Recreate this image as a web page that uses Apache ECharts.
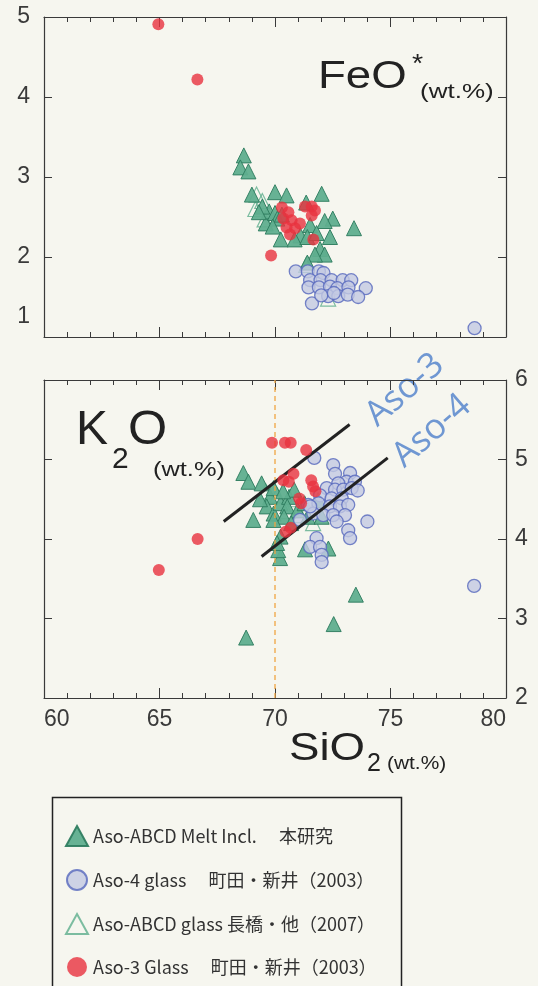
<!DOCTYPE html>
<html>
<head>
<meta charset="utf-8">
<script src="https://cdn.jsdelivr.net/npm/echarts@6.0.0/dist/echarts.min.js"></script>
<style>
html,body{margin:0;padding:0;background:#f6f6ef}
#main{width:538px;height:986px}
</style>
</head>
<body>
<div id="main"></div>
<script>
// series names (legend)
var nameMelt = 'Aso-ABCD Melt Incl.\u3000 本研究'
var nameAso4 = 'Aso-4 glass\u3000 町田・新井（2003）'
var nameAbcdGlass = 'Aso-ABCD glass 長橋・他（2007）'
var nameAso3 = 'Aso-3 Glass\u3000 町田・新井（2003）'

// SiO2 vs FeO* (upper panel)
var meltFeO = [[68.65,3.27],[68.5,3.12],[68.85,3.07],[69.0,2.78],[70.0,2.81],[70.5,2.77],[72.02,2.79],[71.35,2.68],
  [73.42,2.36],[72.5,2.48],[72.15,2.45],[72.38,2.25],[71.95,2.1],[72.15,2.03],[71.73,2.03],[71.4,1.93],[70.25,2.22],
  [69.6,2.42],[69.75,2.57],[70.0,2.55],[69.45,2.63],[69.3,2.56],[71.1,2.27],[71.52,2.4],[70.85,2.22],[71.4,2.25],
  [70.1,2.48],[70.3,2.53],[69.9,2.38],[71.8,2.3]]
var abcdGlassFeO = [[69.2,2.78],[69.45,2.7],[69.15,2.6],[69.55,2.47],[71.35,1.9],[72.3,1.48]]
var aso4FeO = [[70.9,1.82],[71.42,1.82],[71.9,1.82],[72.1,1.8],[71.52,1.71],[71.97,1.71],[72.45,1.71],[72.93,1.71],
  [73.3,1.71],[71.45,1.62],[71.9,1.62],[72.38,1.63],[72.7,1.61],[73.18,1.62],[73.93,1.61],[72.3,1.51],[72.74,1.51],
  [73.15,1.53],[73.6,1.5],[71.6,1.42],[72.0,1.52],[72.55,1.55],[78.64,1.11]]
var aso3FeO = [[64.95,4.91],[66.64,4.22],[69.83,2.02],[70.3,2.62],[70.58,2.56],[70.36,2.48],[70.72,2.46],[70.87,2.36],
  [70.5,2.37],[70.65,2.28],[71.3,2.63],[71.59,2.63],[71.73,2.58],[71.59,2.52],[71.08,2.42],[71.66,2.22]]

// SiO2 vs K2O (lower panel)
var meltK2O = [[68.63,4.83],[68.85,4.72],[69.06,4.24],[68.75,2.76],[72.54,2.93],[73.5,3.3],[70.22,3.76],[70.14,3.86],
  [69.42,4.7],[69.79,4.53],[69.94,4.64],[69.64,4.41],[69.94,4.32],[70.24,4.45],[70.61,4.53],[70.53,4.41],[70.39,4.28],
  [70.83,4.62],[70.98,4.36],[71.28,4.45],[71.42,4.28],[71.87,4.49],[72.02,4.28],[72.31,3.88],[71.3,3.87],[69.93,4.24],
  [70.24,4.03],[70.09,3.95],[69.35,4.5],[70.7,4.2],[70.35,4.6]]
var abcdGlassK2O = [[69.6,4.6],[70.1,4.55],[70.5,4.35],[71.1,4.3],[71.65,4.2],[70.9,4.5]]
var aso4K2O = [[71.7,5.02],[72.52,4.93],[72.6,4.82],[73.25,4.83],[73.1,4.72],[72.74,4.7],[73.46,4.72],[72.24,4.64],
  [72.6,4.62],[72.96,4.62],[73.32,4.64],[73.58,4.61],[71.95,4.55],[72.45,4.51],[72.89,4.51],[71.44,4.43],[71.88,4.45],
  [72.38,4.41],[72.81,4.41],[73.17,4.43],[71.66,4.32],[72.09,4.3],[72.52,4.3],[73.03,4.3],[74.0,4.22],[72.67,4.22],
  [73.17,4.11],[73.25,4.01],[71.8,4.01],[71.52,3.9],[71.95,3.9],[72.02,3.8],[72.02,3.71],[71.08,4.24],[71.52,4.41],
  [78.62,3.41]]
var aso3K2O = [[64.97,3.61],[66.65,4.0],[69.87,5.21],[70.43,5.21],[70.68,5.21],[71.35,5.12],[70.36,4.74],[70.8,4.82],
  [70.6,4.72],[71.57,4.74],[71.65,4.66],[71.75,4.6],[71.05,4.51],[71.13,4.45],[70.68,4.14],[70.46,4.09]]

// trend lines and SiO2 = 70 marker
var aso3Line = [[67.78,4.22],[73.23,5.44]]
var aso4Line = [[69.42,3.78],[74.88,5.02]]
var sio2Mark = [[70,2],[70,6]]

var xTicks = [60, 65, 70, 75, 80]

var axisColor = '#3a3a3a'
var labelFont = 'Liberation Sans'

function xAxisOf(grid, pos, showLabel) {
  return {
    type: 'value', gridIndex: grid, position: pos,
    min: xTicks[0], max: xTicks[xTicks.length - 1], interval: 5,
    axisLine: {show: true, onZero: false, lineStyle: {color: axisColor, width: 1.2}},
    axisTick: {show: true, inside: true, length: 10, lineStyle: {color: axisColor}},
    minorTick: {show: true, splitNumber: 5, length: 5, lineStyle: {color: axisColor}},
    splitLine: {show: false},
    axisLabel: {show: showLabel, color: axisColor, fontFamily: labelFont, fontSize: 23, margin: 10,
      alignMinLabel: 'left', alignMaxLabel: 'right'}
  }
}

function yAxisOf(grid, pos, min, max, showLabel) {
  return {
    type: 'value', gridIndex: grid, position: pos, min: min, max: max, interval: 1,
    axisLine: {show: true, onZero: false, lineStyle: {color: axisColor, width: 1.2}},
    axisTick: {show: true, inside: true, length: 8, lineStyle: {color: axisColor}},
    splitLine: {show: false},
    axisLabel: {show: showLabel, color: axisColor, fontFamily: labelFont, fontSize: 23,
      margin: grid === 0 ? 14 : 9,
      formatter: function (v) { return (grid === 0 && v === 1) ? '{up|1}' : v },
      rich: {up: {fontSize: 23, fontFamily: labelFont, color: axisColor, padding: [0, 0, 40, 0]}}}
  }
}

var triStyle = {color: '#5fae8e', borderColor: '#2f7d60', borderWidth: 1, opacity: 0.95}
var hollowStyle = {color: 'rgba(255,255,255,0)', borderColor: '#5cae8c', borderWidth: 1.2}
var blueStyle = {color: '#c3c9e2', borderColor: '#5566bd', borderWidth: 1.3}
var redStyle = {color: '#e8323f', borderWidth: 0}

function scatter(name, data, idx, symbol, size, style, z) {
  return {name: name, type: 'scatter', xAxisIndex: idx, yAxisIndex: idx, data: data,
    symbol: symbol, symbolSize: size, itemStyle: style, z: z, emphasis: {disabled: true}}
}

function line(name, data, color, width, type) {
  return {name: name, type: 'line', xAxisIndex: 2, yAxisIndex: 2, data: data, symbol: 'none',
    lineStyle: {color: color, width: width, type: type}, z: 5, silent: true}
}

function label(x, y, text, size, sx) {
  return {type: 'text', x: x, y: y, scaleX: sx, style: {text: text, font: size + 'px "Liberation Sans"',
    fill: '#222', textVerticalAlign: 'middle'}}
}

var echart = echarts.init(document.getElementById('main'))
var option = {
  backgroundColor: '#f6f6ef',
  animation: false,
  grid: [
    {left: 44, top: 17, width: 462, height: 320},
    {left: 44, top: 380, width: 462, height: 318}
  ],
  xAxis: [xAxisOf(0, 'bottom', false), xAxisOf(0, 'top', false), xAxisOf(1, 'bottom', true), xAxisOf(1, 'top', false)],
  yAxis: [yAxisOf(0, 'left', 1, 5, true), yAxisOf(0, 'right', 1, 5, false), yAxisOf(1, 'left', 2, 6, false), yAxisOf(1, 'right', 2, 6, true)],
  legend: {
    orient: 'vertical', left: 60, top: 820, height: 220,
    itemWidth: 22, itemHeight: 20, itemGap: 22,
    data: [nameMelt, nameAso4, nameAbcdGlass, nameAso3],
    textStyle: {color: '#333', fontSize: 18, fontFamily: 'Noto Sans CJK JP'}
  },
  graphic: [
    {type: 'rect', left: 50, top: 795, shape: {width: 349, height: 240},
      style: {fill: 'none', stroke: '#222', lineWidth: 1.5}},
    label(318, 78, 'FeO', 38, 1.2),
    label(412, 65, '*', 26, 1.1),
    label(420, 92, '(wt.%)', 20, 1.3),
    label(76, 431, 'K', 48, 1),
    label(112, 460, '2', 30, 1),
    label(128, 431, 'O', 48, 1.05),
    label(153, 470, '(wt.%)', 20, 1.27),
    label(289, 750, 'SiO', 38, 1.2),
    label(367, 764, '2', 25, 1),
    label(387, 764, '(wt.%)', 19, 1.1),
    {type: 'text', x: 405, y: 390, rotation: 0.72,
      style: {text: 'Aso-3', font: '35px "Open Sans"', fill: '#6f97d2', textAlign: 'center', textVerticalAlign: 'middle'}},
    {type: 'text', x: 432, y: 431, rotation: 0.72,
      style: {text: 'Aso-4', font: '35px "Open Sans"', fill: '#6f97d2', textAlign: 'center', textVerticalAlign: 'middle'}}
  ],
  series: [
    scatter(nameAbcdGlass, abcdGlassFeO, 0, 'triangle', 15, hollowStyle, 2),
    scatter(nameMelt, meltFeO, 0, 'triangle', 15, triStyle, 3),
    scatter(nameAso4, aso4FeO, 0, 'circle', 13, blueStyle, 4),
    scatter(nameAso3, aso3FeO, 0, 'circle', 12, redStyle, 5),
    line('sio2-70', sio2Mark, '#f0a541', 1.3, [5, 4]),
    scatter(nameAbcdGlass, abcdGlassK2O, 2, 'triangle', 15, hollowStyle, 2),
    scatter(nameMelt, meltK2O, 2, 'triangle', 15, triStyle, 3),
    scatter(nameAso4, aso4K2O, 2, 'circle', 13, blueStyle, 4),
    scatter(nameAso3, aso3K2O, 2, 'circle', 12, redStyle, 5),
    line('aso3-line', aso3Line, '#222', 3, 'solid'),
    line('aso4-line', aso4Line, '#222', 3, 'solid')
  ]
}
echart.setOption(option)
</script>
</body>
</html>
